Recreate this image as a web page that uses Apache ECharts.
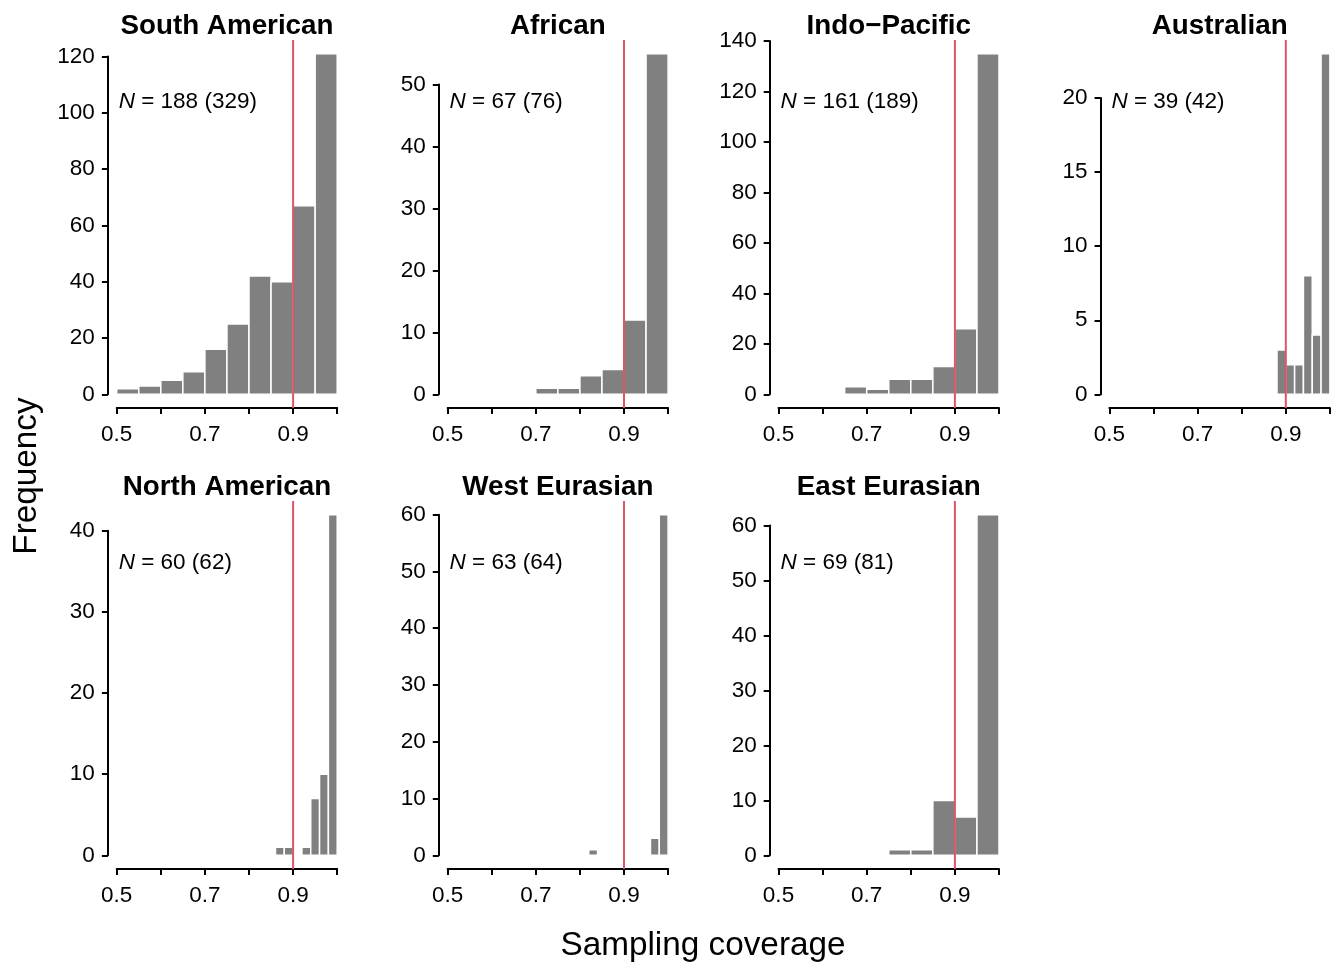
<!DOCTYPE html>
<html>
<head>
<meta charset="utf-8">
<script src="https://cdn.jsdelivr.net/npm/echarts@6/dist/echarts.min.js"></script>
<style>
html,body{margin:0;padding:0;background:#fff;}
#chart{width:1344px;height:963px;}
</style>
</head>
<body>
<div id="chart"></div>
<script>
// ---------- DATA ----------
const regionNames = ['South American', 'African', 'Indo\u2212Pacific', 'Australian', 'North American', 'West Eurasian', 'East Eurasian'];
const nRetained = [188, 67, 161, 39, 60, 63, 69];
const nTotal = [329, 76, 189, 42, 62, 64, 81];
// histogram bins: first break and bin width, then counts
const binStart = [0.50, 0.70, 0.65, 0.88, 0.86, 0.82, 0.75];
const binWidth = [0.05, 0.05, 0.05, 0.02, 0.02, 0.02, 0.05];
const countsSouthAmerican = [2, 3, 5, 8, 16, 25, 42, 40, 67, 121];
const countsAfrican = [1, 1, 3, 4, 12, 55];
const countsIndoPacific = [3, 2, 6, 6, 11, 26, 135];
const countsAustralian = [3, 2, 2, 8, 4, 23];
const countsNorthAmerican = [1, 1, 0, 1, 7, 10, 42];
const countsWestEurasian = [1, 0, 0, 0, 0, 0, 0, 3, 60];
const countsEastEurasian = [1, 1, 10, 7, 62];
const allCounts = [countsSouthAmerican, countsAfrican, countsIndoPacific, countsAustralian, countsNorthAmerican, countsWestEurasian, countsEastEurasian];
// axis ticks
const yTickMax = [120, 50, 140, 20, 40, 60, 60];
const yTickStep = [20, 10, 20, 5, 10, 10, 10];
const xMin = 0.5, xMax = 1.0, xTickStep = 0.1;
const xTickLabelsShown = ['0.5', '0.7', '0.9'];
const coverageThreshold = 0.9;
const xTitle = 'Sampling coverage';
const yTitle = 'Frequency';

// ---------- LAYOUT ----------
const FONT = '"Liberation Sans", Arial, Helvetica, sans-serif';
const TICK_FS = 22.5;
const rowTop = [40, 501], rowBottom = [408, 869];
const plotH = 368;
const colX0 = 116.7, colStep = 330.9, pxPerX = 441;
const gridW = (xMax - xMin) * pxPerX;

const chart = echarts.init(document.getElementById('chart'), null, {renderer: 'canvas'});
const grids = [], xAxes = [], yAxes = [], series = [], graphics = [];

regionNames.forEach((name, i) => {
  const row = i < 4 ? 0 : 1;
  const col = i < 4 ? i : i - 4;
  const counts = allCounts[i];
  const ymax = Math.max(...counts);
  const ppu = plotH / (1.08 * ymax);
  const yBottom = rowBottom[row] - 0.04 * ymax * ppu;
  const h = yTickMax[i] * ppu;
  const left = colX0 + col * colStep;
  grids.push({left: left, top: yBottom - h, width: gridW, height: h, containLabel: false});
  xAxes.push({
    type: 'value', gridIndex: i, min: xMin, max: xMax, interval: xTickStep,
    position: 'bottom', offset: 0.04 * ymax * ppu,
    axisLine: {show: true, onZero: false, lineStyle: {color: '#000', width: 2}},
    axisTick: {show: true, inside: false, length: 6, lineStyle: {color: '#000', width: 2}},
    splitLine: {show: false},
    axisLabel: {
      show: true, margin: 15, color: '#000', fontFamily: FONT, fontSize: TICK_FS,
      formatter: v => { const s = (Math.round(v * 10) / 10).toFixed(1); return xTickLabelsShown.includes(s) ? s : ''; }
    }
  });
  yAxes.push({
    type: 'value', gridIndex: i, min: 0, max: yTickMax[i], interval: yTickStep[i],
    position: 'left', offset: 0.02 * pxPerX,
    axisLine: {show: true, onZero: false, lineStyle: {color: '#000', width: 2}},
    axisTick: {show: true, inside: false, length: 6, lineStyle: {color: '#000', width: 2}},
    splitLine: {show: false},
    axisLabel: {show: true, margin: 13, color: '#000', fontFamily: FONT, fontSize: TICK_FS}
  });
  const binData = counts.map((c, k) => [
    +(binStart[i] + k * binWidth[i]).toFixed(3),
    +(binStart[i] + (k + 1) * binWidth[i]).toFixed(3),
    c
  ]).filter(d => d[2] > 0);
  series.push({
    type: 'custom', xAxisIndex: i, yAxisIndex: i, clip: false, silent: true,
    encode: {x: [0, 1], y: 2},
    data: binData,
    renderItem: (params, api) => {
      const p0 = api.coord([api.value(0), 0]);
      const p1 = api.coord([api.value(1), api.value(2)]);
      return {
        type: 'rect',
        shape: {x: p0[0], y: p1[1], width: p1[0] - p0[0], height: p0[1] - p1[1]},
        style: {fill: '#808080', stroke: '#ffffff', lineWidth: 1.5}
      };
    },
    z: 2
  });
  series.push({
    type: 'custom', xAxisIndex: i, yAxisIndex: i, clip: false, silent: true,
    encode: {x: 0, y: [1, 2]},
    data: [[coverageThreshold, -0.04 * ymax, 1.04 * ymax]],
    renderItem: (params, api) => {
      const a = api.coord([api.value(0), api.value(1)]);
      const b = api.coord([api.value(0), api.value(2)]);
      return {type: 'line', shape: {x1: a[0], y1: a[1], x2: b[0], y2: b[1]},
        style: {stroke: '#DF536B', lineWidth: 2}};
    },
    z: 3
  });
  // panel title
  graphics.push({
    type: 'text', x: left + gridW / 2, y: rowTop[row] - 14,
    style: {text: name, fontFamily: FONT, fontWeight: 'bold', fontSize: 27.8, fill: '#000', align: 'center', verticalAlign: 'middle'}
  });
  // N annotation
  graphics.push({
    type: 'text', x: left + 2, y: rowTop[row] + 62,
    style: {
      text: '{i|N} = ' + nRetained[i] + ' (' + nTotal[i] + ')',
      fontFamily: FONT, fontSize: TICK_FS, fill: '#000', align: 'left', verticalAlign: 'middle',
      rich: {i: {fontStyle: 'italic', fontFamily: FONT, fontSize: TICK_FS, fill: '#000'}}
    }
  });
});

graphics.push({
  type: 'text', x: 703, y: 946,
  style: {text: xTitle, fontFamily: FONT, fontSize: 33.3, fill: '#000', align: 'center', verticalAlign: 'middle'}
});
graphics.push({
  type: 'text', x: 27, y: 476, rotation: Math.PI / 2,
  style: {text: yTitle, fontFamily: FONT, fontSize: 33.3, fill: '#000', align: 'center', verticalAlign: 'middle'}
});

chart.setOption({
  animation: false,
  backgroundColor: '#ffffff',
  grid: grids,
  xAxis: xAxes,
  yAxis: yAxes,
  series: series,
  graphic: graphics
});
</script>
</body>
</html>
